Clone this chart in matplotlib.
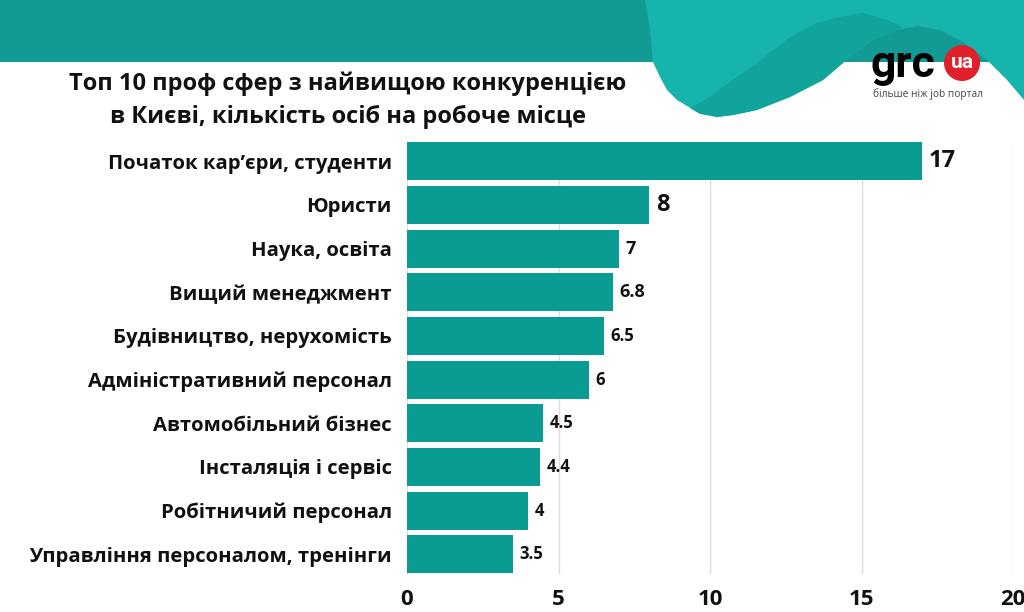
import matplotlib.pyplot as plt
import numpy as np
from matplotlib.patches import Polygon, Rectangle, Circle

# data
categories = ['Початок кар’єри, студенти', 'Юристи', 'Наука, освіта',
              'Вищий менеджмент', 'Будівництво, нерухомість',
              'Адміністративний персонал', 'Автомобільний бізнес',
              'Інсталяція і сервіс', 'Робітничий персонал',
              'Управління персоналом, тренінги']
values = [17, 8, 7, 6.8, 6.5, 6, 4.5, 4.4, 4, 3.5]
value_labels = ['17', '8', '7', '6.8', '6.5', '6', '4.5', '4.4', '4', '3.5']
x_ticks = [0, 5, 10, 15, 20]

TITLE = ('Топ 10 проф сфер з найвищою конкуренцією\n'
         'в Києві, кількість осіб на робоче місце')

BAR_COLOR = '#0a9b93'
DARK_TEAL = '#119b94'
LIGHT_TEAL = '#17b4ad'
MID_TEAL = '#11a49d'
FONT = ['Open Sans', 'DejaVu Sans']

plt.rcParams['font.family'] = FONT

fig = plt.figure(figsize=(10.24, 6.12), dpi=100)

# background header drawn in pixel coords
bg = fig.add_axes([0, 0, 1, 1], zorder=0)
bg.set_xlim(0, 1024)
bg.set_ylim(612, 0)
bg.axis('off')

bg.add_patch(Rectangle((0, 0), 1024, 62, color=DARK_TEAL, lw=0))
light_shape = [(645, 0), (650, 30), (653, 62), (660, 77), (667, 90),
               (677, 100), (697, 112), (717, 117), (733, 115), (757, 110),
               (790, 97), (823, 80), (850, 57), (873, 40), (897, 30),
               (917, 26), (940, 30), (963, 42), (987, 60), (1007, 80),
               (1024, 100), (1024, 0)]
bg.add_patch(Polygon(light_shape, closed=True, color=LIGHT_TEAL, lw=0))
mid_shape = [(690, 108), (705, 100), (723, 87), (757, 63), (790, 37),
             (817, 23), (840, 17), (863, 13), (887, 20), (903, 27),
             (897, 30), (873, 40), (850, 57), (823, 80), (790, 97),
             (757, 110), (733, 115), (717, 117), (700, 114)]
bg.add_patch(Polygon(mid_shape, closed=True, color=MID_TEAL, lw=0))

# logo
bg.text(870, 77, 'grc', fontsize=32, fontweight='bold', color='black',
        family=['Roboto', 'DejaVu Sans'], ha='left', va='baseline')
bg.add_patch(Circle((962, 63), 18, color='#e0202a', lw=0))
bg.text(962, 62, 'ua', fontsize=15, fontweight='bold', color='white',
        family=['Roboto', 'DejaVu Sans'], ha='center', va='center')
bg.text(928, 94, 'більше ніж job портал', fontsize=7.3, color='#444444',
        ha='center', va='center')

bg.text(348, 100, TITLE, fontsize=17, fontweight='bold', color='#111111',
        ha='center', va='center', linespacing=1.5)

# main chart
ax = fig.add_axes([407 / 1024, 1 - 574 / 612, 606 / 1024, 432 / 612],
                  zorder=1)
ax.patch.set_alpha(0)
y = np.arange(len(categories))
ax.barh(y, values, height=0.87, color=BAR_COLOR, zorder=3)

for i, (v, lab) in enumerate(zip(values, value_labels)):
    size = 17 if i < 2 else (13 if i < 4 else 12)
    ax.text(v + 0.22, i, lab, fontsize=size, fontweight='bold',
            color='#111111', ha='left', va='center', zorder=4)

ax.set_xlim(0, 20)
ax.set_ylim(9.45, -0.44)
ax.set_xticks(x_ticks)
ax.set_yticks(y)
ax.set_yticklabels(categories, fontsize=14.6, fontweight='bold',
                   color='#111111')
for lab in ax.get_xticklabels():
    lab.set_fontsize(16)
    lab.set_fontweight('bold')
    lab.set_color('#111111')
ax.tick_params(axis='both', length=0)
ax.tick_params(axis='y', pad=11)
ax.tick_params(axis='x', pad=11)
ax.grid(axis='x', color='#dddddd', lw=1, zorder=0)
for s in ax.spines.values():
    s.set_visible(False)

plt.savefig('out.png', dpi=100)
